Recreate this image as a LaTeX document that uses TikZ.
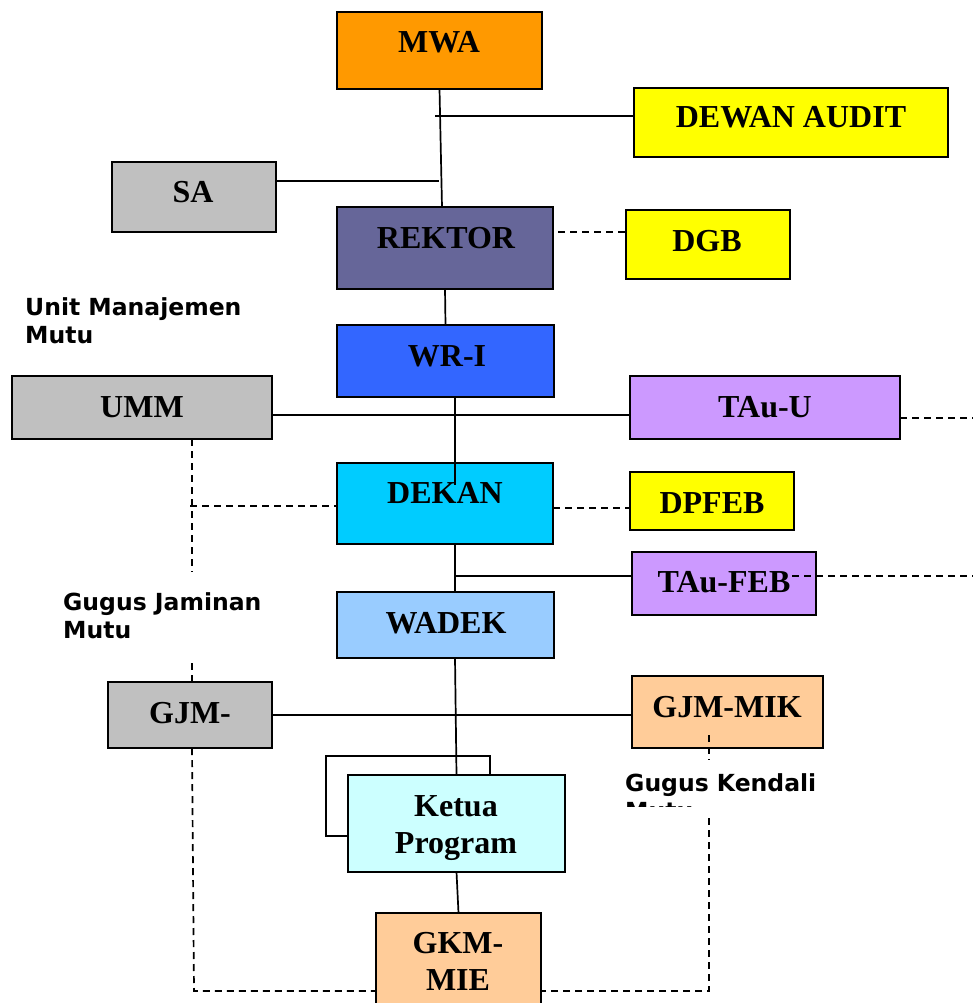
\documentclass[tikz,border=0pt]{standalone}
\usepackage{fontspec}
\setmainfont{Liberation Serif}
\newfontfamily\labfont{DejaVu Sans}
\definecolor{cmwa}{HTML}{FF9900}
\definecolor{cyel}{HTML}{FFFF00}
\definecolor{cgray}{HTML}{C0C0C0}
\definecolor{crek}{HTML}{666699}
\definecolor{cwr}{HTML}{3366FF}
\definecolor{cpur}{HTML}{CC99FF}
\definecolor{cdek}{HTML}{00CCFF}
\definecolor{cwad}{HTML}{99CCFF}
\definecolor{cpch}{HTML}{FFCC99}
\definecolor{ccya}{HTML}{CCFFFF}
\tikzset{
  box/.style={draw=black, line width=2.2pt, inner sep=0pt, outer sep=0pt},
  bt/.style={anchor=base, inner sep=0pt, font=\fontsize{32}{37}\selectfont\bfseries},
  lab/.style={anchor=north west, inner sep=0pt, align=left, font=\fontsize{23.5}{28.5}\selectfont\labfont\bfseries},
  conn/.style={line width=1.7pt},
  dsh/.style={line width=1.7pt, dash pattern=on 7pt off 5pt},
}
\begin{document}
\begin{tikzpicture}[x=1pt,y=-1pt]
\useasboundingbox (0,0) rectangle (973,1003);
\clip (0,0) rectangle (973,1003);
% boxes
\node[box, fill=cmwa, minimum width=205, minimum height=77] (mwa) at (439.5,50.5) {};
\node[box, fill=cyel, minimum width=314, minimum height=69] (dewan) at (791,122.5) {};
\node[box, fill=cgray, minimum width=164, minimum height=70] (sa) at (194,197) {};
\node[box, fill=crek, minimum width=216, minimum height=82] (rektor) at (445,248) {};
\node[box, fill=cyel, minimum width=164, minimum height=69] (dgb) at (708,244.5) {};
\node[box, fill=cwr, minimum width=217, minimum height=72] (wr1) at (445.5,361) {};
\node[box, fill=cgray, minimum width=260, minimum height=63] (umm) at (142,407.5) {};
\node[box, fill=cpur, minimum width=270, minimum height=63] (tauu) at (765,407.5) {};
\node[box, fill=cdek, minimum width=216, minimum height=81] (dekan) at (445,503.5) {};
\node[box, fill=cyel, minimum width=164, minimum height=58] (dpfeb) at (712,501) {};
\node[box, fill=cpur, minimum width=184, minimum height=63] (taufeb) at (724,583.5) {};
\node[box, fill=cwad, minimum width=217, minimum height=66] (wadek) at (445.5,625) {};
\node[box, fill=cgray, minimum width=164, minimum height=66] (gjm) at (190,715) {};
\node[box, fill=cpch, minimum width=191, minimum height=72] (gjmmik) at (727.5,712) {};
\coordinate (lp1) at (326,756);
\coordinate (lp2) at (490,836);
\draw[conn] (lp1) rectangle (lp2);
\node[box, fill=ccya, minimum width=217, minimum height=97] (ketua) at (456.5,823.5) {};
\node[box, fill=cpch, minimum width=165, minimum height=97] (gkm) at (458.5,961.5) {};
% box texts
\node[bt] (mwa-t) at (439,53) {MWA};
\node[bt] (dewan-t) at (791,128) {DEWAN AUDIT};
\node[bt] (sa-t) at (193,203) {SA};
\node[bt] (rektor-t) at (446,248) {REKTOR};
\node[bt] (dgb-t) at (707,251) {DGB};
\node[bt] (wr1-t) at (447,366) {WR-I};
\node[bt] (umm-t) at (142,417) {UMM};
\node[bt] (tauu-t) at (765,417) {TAu-U};
\node[bt] (dekan-t) at (445,503) {DEKAN};
\node[bt] (dpfeb-t) at (712,513) {DPFEB};
\node[bt] (taufeb-t) at (724,592) {TAu-FEB};
\node[bt] (wadek-t) at (446,633) {WADEK};
\node[bt] (gjm-t) at (190,723) {GJM-};
\node[bt] (gjmmik-t) at (727,717) {GJM-MIK};
\node[bt] (ketua-t1) at (456,816) {Ketua};
\node[bt] (ketua-t2) at (456,853) {Program};
\node[bt] (gkm-t1) at (458,953) {GKM-};
\node[bt] (gkm-t2) at (458,990) {MIE};
% side labels
\node[lab] (uml) at (25,297) {Unit Manajemen\\Mutu};
\node[lab] (gjl) at (63,592) {Gugus Jaminan\\Mutu};
\begin{scope}
\clip (600,760) rectangle (860,806);
\node[lab] (gkl) at (625,773) {Gugus Kendali\\Mutu};
\end{scope}
% coordinates
\coordinate (ra) at (442,207);
\coordinate (da) at (435,116);
\coordinate (j1) at (439,181);
\coordinate (dg) at (558,232);
\coordinate (h1) at (300,415);
\coordinate (v1) at (455,485);
\coordinate (e1) at (973,418);
\coordinate (u1) at (192,572);
\coordinate (u2) at (192,663);
\coordinate (c1) at (194,991);
\coordinate (d1) at (190,506);
\coordinate (d2) at (600,508);
\coordinate (t1) at (455,576);
\coordinate (t2) at (792,576);
\coordinate (e2) at (973,576);
\coordinate (m1) at (709,735);
\coordinate (m2) at (709,760);
\coordinate (m3) at (709,818);
\coordinate (m4) at (709,991);
% connectors
\draw[conn] (mwa.south) -- (rektor.north -| ra);
\draw[conn] (da) -- (dewan.west |- da);
\draw[conn] (sa.east |- j1) -- (j1);
\draw[dsh] (dg) -- (dgb.west |- dg);
\draw[conn] (rektor.south) -- (wr1.north);
\draw[conn] (umm.east |- h1) -- (tauu.west |- h1);
\draw[conn] (wr1.south -| v1) -- (v1);
\draw[dsh] (tauu.east |- e1) -- (e1);
\draw[dsh] (umm.south -| u1) -- (u1);
\draw[dsh] (u2) -- (gjm.north -| u2);
\draw[dsh] (gjm.south -| u2) -- (c1) -- (gkm.west |- c1);
\draw[dsh] (d1) -- (dekan.west |- d1);
\draw[dsh] (dekan.east |- d2) -- (dpfeb.west |- d2);
\draw[conn] (dekan.south -| t1) -- (wadek.north -| t1);
\draw[conn] (t1) -- (taufeb.west |- t1);
\draw[dsh] (t2) -- (e2);
\draw[conn] (wadek.south -| t1) -- (ketua.north);
\draw[conn] (gjm.east) -- (gjmmik.west |- gjm.east);
\draw[dsh] (m1) -- (m2);
\draw[dsh] (m3) -- (m4) -- (gkm.east |- m4);
\draw[conn] (ketua.south) -- (gkm.north);
\end{tikzpicture}
\end{document}
